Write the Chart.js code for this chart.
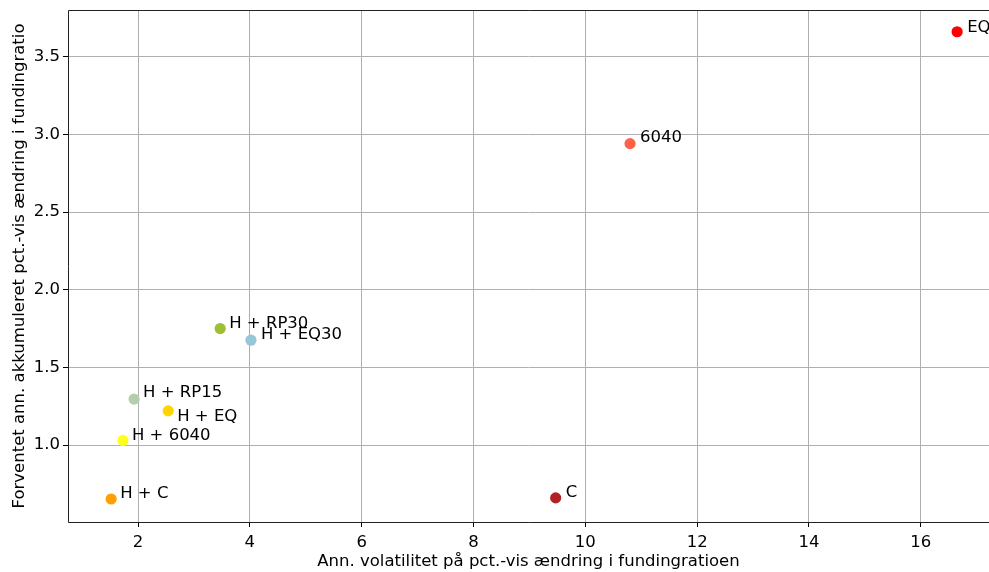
<!DOCTYPE html>
<html>
<head>
<meta charset="utf-8">
<script src="https://cdn.jsdelivr.net/npm/chart.js@4/dist/chart.umd.min.js"></script>
<style>
  html, body { margin: 0; padding: 0; background: #fff; overflow: hidden; }
  canvas { display: block; }
</style>
</head>
<body>
<canvas id="scatterChart" width="989" height="572"></canvas>
<script>
// Porteføljer: volatilitet og forventet afkast
const names = ['EQ', '6040', 'H + RP30', 'H + EQ30', 'H + RP15', 'H + EQ', 'H + 6040', 'H + C', 'C'];
const volatility = [16.65, 10.80, 3.47, 4.02, 1.93, 2.54, 1.73, 1.52, 9.47];
const expReturn = [3.66, 2.94, 1.75, 1.675, 1.296, 1.22, 1.03, 0.653, 0.66];
const colors = ['#ff0000', '#ff6347', '#9fbf33', '#97c7d6', '#b5cdaa', '#ffd400', '#ffff1a', '#ffa000', '#b22222'];
// label offset in pixels (dx, dy) from the point
const labelOffsets = [[10, -4], [10, -6], [9, -5], [10, -5], [9, -6], [9, 6], [9, -5], [9, -5], [10, -5]];

const xTicks = [2, 4, 6, 8, 10, 12, 14, 16];
const yTicks = [1.0, 1.5, 2.0, 2.5, 3.0, 3.5];

const FONT = 'DejaVu Sans';
const FS = 16.5;

const pointLabels = {
  id: 'pointLabels',
  afterDatasetsDraw(chart) {
    const ctx = chart.ctx;
    const meta = chart.getDatasetMeta(0);
    ctx.save();
    ctx.font = FS + 'px "' + FONT + '"';
    ctx.fillStyle = '#000';
    ctx.textAlign = 'left';
    ctx.textBaseline = 'middle';
    meta.data.forEach((pt, i) => {
      ctx.fillText(names[i], pt.x + labelOffsets[i][0], pt.y + labelOffsets[i][1]);
    });
    ctx.restore();
  }
};

// axes frame; the right side falls just outside the canvas
const frame = {
  id: 'frame',
  afterDraw(chart) {
    const a = chart.chartArea;
    const ctx = chart.ctx;
    const l = Math.round(a.left) + 0.5, t = Math.round(a.top) + 0.5, b = Math.round(a.bottom) + 0.5;
    ctx.save();
    ctx.strokeStyle = '#222';
    ctx.lineWidth = 1;
    ctx.beginPath();
    ctx.moveTo(a.right + 2, t);
    ctx.lineTo(l, t);
    ctx.lineTo(l, b);
    ctx.lineTo(a.right + 2, b);
    ctx.stroke();
    ctx.restore();
  }
};

function noPadding(s) {
  s.paddingLeft = 0;
  s.paddingRight = 0;
  s.paddingTop = 0;
  s.paddingBottom = 0;
}

const ctx = document.getElementById('scatterChart').getContext('2d');
const chart = new Chart(ctx, {
  type: 'scatter',
  data: {
    datasets: [{
      data: volatility.map((v, i) => ({ x: v, y: expReturn[i] })),
      pointBackgroundColor: colors,
      pointBorderWidth: 0,
      pointRadius: 5.6,
      pointHoverRadius: 5.6
    }]
  },
  options: {
    responsive: false,
    animation: false,
    layout: { autoPadding: false, padding: { top: 10, right: 0, left: 0, bottom: 0 } },
    plugins: {
      legend: { display: false },
      tooltip: { enabled: false }
    },
    scales: {
      x: {
        type: 'linear',
        min: 0.748,
        max: 17.22,
        afterBuildTicks: (s) => { s.ticks = xTicks.map(v => ({ value: v })); },
        afterFit: (s) => { s.height = 50; noPadding(s); },
        ticks: {
          color: '#000',
          font: { family: FONT, size: FS },
          padding: 6,
          maxRotation: 0,
          callback: (v) => String(v)
        },
        grid: { color: '#b0b0b0', tickColor: '#000', tickLength: 5, lineWidth: 1 },
        border: { display: false },
        title: {
          display: true,
          text: 'Ann. volatilitet på pct.-vis ændring i fundingratioen',
          color: '#000',
          font: { family: FONT, size: FS },
          padding: { top: 0, bottom: 0 }
        }
      },
      y: {
        type: 'linear',
        min: 0.505,
        max: 3.80,
        afterBuildTicks: (s) => { s.ticks = yTicks.map(v => ({ value: v })); },
        afterFit: (s) => { s.width = 68; noPadding(s); },
        ticks: {
          color: '#000',
          font: { family: FONT, size: FS },
          padding: 3,
          callback: (v) => v.toFixed(1)
        },
        grid: { color: '#b0b0b0', tickColor: '#000', tickLength: 5, lineWidth: 1 },
        border: { display: false },
        title: {
          display: true,
          text: 'Forventet ann. akkumuleret pct.-vis ændring i fundingratio',
          color: '#000',
          font: { family: FONT, size: FS },
          padding: { top: 10, bottom: 4 }
        }
      }
    }
  },
  plugins: [pointLabels, frame]
});
</script>
</body>
</html>
